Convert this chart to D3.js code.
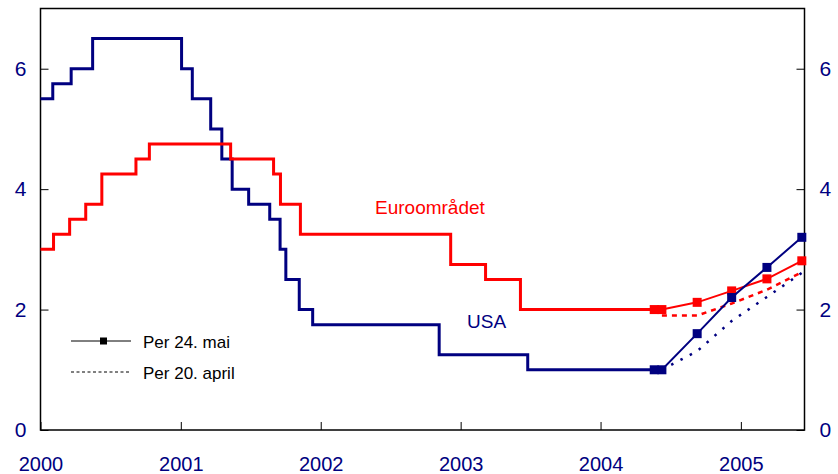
<!DOCTYPE html>
<html>
<head>
<meta charset="utf-8">
<script src="https://cdn.jsdelivr.net/npm/d3@7"></script>
<style>
  body { margin: 0; background: #fff; }
  svg { display: block; font-family: "Liberation Sans", Arial, sans-serif; }
</style>
</head>
<body>
<svg id="chart" width="838" height="474"></svg>
<script>
// ---------- data ----------
const usaDates = ["2000-01-01","2000-02-02","2000-03-21","2000-05-16","2001-01-03","2001-01-31","2001-03-20","2001-04-18","2001-05-15","2001-06-27","2001-08-21","2001-09-17","2001-10-02","2001-11-06","2001-12-11","2002-11-06","2003-06-25","2004-05-20"];
const usaRates = [5.5,5.75,6.0,6.5,6.0,5.5,5.0,4.5,4.0,3.75,3.5,3.0,2.5,2.0,1.75,1.25,1.0,1.0];

const euroDates = ["2000-01-01","2000-02-04","2000-03-17","2000-04-28","2000-06-09","2000-09-06","2000-10-11","2001-05-11","2001-08-31","2001-09-18","2001-11-09","2002-12-06","2003-03-07","2003-06-06","2004-05-20"];
const euroRates = [3.0,3.25,3.5,3.75,4.25,4.5,4.75,4.5,4.25,3.75,3.25,2.75,2.5,2.0,2.0];

const mayDates = ["2004-05-20","2004-06-09","2004-09-09","2004-12-08","2005-03-10","2005-06-09"];
const usaMay  = [1.0,1.0,1.6,2.2,2.7,3.2];
const euroMay = [2.0,2.0,2.12,2.31,2.51,2.81];

const aprilDates = ["2004-06-09","2004-09-09","2004-12-08","2005-03-10","2005-06-09"];
const usaApril  = [1.0,1.31,1.81,2.21,2.61];
const euroApril = [1.9,1.9,2.1,2.33,2.62];

const yearTicks = ["2000","2001","2002","2003","2004","2005"];
const yTicks = [0,2,4,6];

const seriesLabels = ["Euroområdet","USA"];
const legendLabels = ["Per 24. mai","Per 20. april"];

(function () {
// ---------- setup ----------
const parse = d3.timeParse("%Y-%m-%d");
const NAVY = "#000080", RED = "#ff0000";
const pLeft = 40.5, pRight = 804.5, pTop = 8.5, pBottom = 430;

const x = d3.scaleTime()
  .domain([parse("2000-01-01"), parse("2005-06-16")])
  .range([pLeft, pRight]);
const y = d3.scaleLinear().domain([0, 7]).range([pBottom, pTop]);

const svg = d3.select("#chart");

const zip = (ds, vs) => ds.map((d, i) => ({ date: parse(d), v: vs[i] }));

const stepLine = d3.line().x(d => x(d.date)).y(d => y(d.v)).curve(d3.curveStepAfter);
const line = d3.line().x(d => x(d.date)).y(d => y(d.v));

// ---------- frame ----------
svg.append("rect")
  .attr("x", pLeft).attr("y", pTop)
  .attr("width", pRight - pLeft).attr("height", pBottom - pTop)
  .attr("fill", "none").attr("stroke", "#000").attr("stroke-width", 1.5);

// ---------- axes ----------
const yearDates = yearTicks.map(t => parse(t + "-01-01"));
const xAxis = d3.axisBottom(x).tickValues(yearDates).tickSize(-8).tickFormat(d3.timeFormat("%Y")).tickPadding(27);
const gx = svg.append("g").attr("transform", `translate(0,${pBottom})`).call(xAxis);
gx.select(".domain").remove();
gx.selectAll(".tick line").attr("stroke", "#000").attr("stroke-width", 1);
gx.selectAll(".tick text").attr("fill", NAVY).attr("font-size", 20)
  .attr("font-family", "'Liberation Sans Narrow', 'Liberation Sans', Arial, sans-serif");

const yFmt = d3.format("d");
const yAxisL = d3.axisLeft(y).tickValues(yTicks).tickSize(-8).tickPadding(14).tickFormat(yFmt);
const gyl = svg.append("g").attr("transform", `translate(${pLeft},0)`).call(yAxisL);
gyl.select(".domain").remove();
gyl.selectAll(".tick line").attr("stroke", "#000");
gyl.selectAll(".tick text").attr("fill", NAVY).attr("font-size", 21);

const yAxisR = d3.axisRight(y).tickValues(yTicks).tickSize(-8).tickPadding(15).tickFormat(yFmt);
const gyr = svg.append("g").attr("transform", `translate(${pRight},0)`).call(yAxisR);
gyr.select(".domain").remove();
gyr.selectAll(".tick line").attr("stroke", "#000");
gyr.selectAll(".tick text").attr("fill", NAVY).attr("font-size", 21);

// ---------- history step lines ----------
svg.append("path").datum(zip(usaDates, usaRates))
  .attr("d", stepLine).attr("fill", "none").attr("stroke", NAVY).attr("stroke-width", 3);
svg.append("path").datum(zip(euroDates, euroRates))
  .attr("d", stepLine).attr("fill", "none").attr("stroke", RED).attr("stroke-width", 3);

// ---------- April forecasts (dashed) ----------
svg.append("path").datum(zip(aprilDates, euroApril))
  .attr("d", line).attr("fill", "none").attr("stroke", RED).attr("stroke-width", 2.5)
  .attr("stroke-dasharray", "5,5");
svg.append("path").datum(zip(aprilDates, usaApril))
  .attr("d", line).attr("fill", "none").attr("stroke", NAVY).attr("stroke-width", 2.5)
  .attr("stroke-dasharray", "2.5,8");

// ---------- May forecasts (solid with markers) ----------
[[euroMay, RED], [usaMay, NAVY]].forEach(([vals, col]) => {
  const data = zip(mayDates, vals);
  svg.append("path").datum(data)
    .attr("d", line).attr("fill", "none").attr("stroke", col).attr("stroke-width", 2);
  svg.selectAll(null).data(data).enter().append("rect")
    .attr("x", d => x(d.date) - 4.5).attr("y", d => y(d.v) - 4.5)
    .attr("width", 9).attr("height", 9).attr("fill", col);
});

// ---------- series labels ----------
svg.append("text").attr("x", 375).attr("y", 214).attr("fill", RED)
  .attr("font-size", 19).text(seriesLabels[0]);
svg.append("text").attr("x", 467).attr("y", 328).attr("fill", NAVY)
  .attr("font-size", 19).text(seriesLabels[1]);

// ---------- legend ----------
const lg = svg.append("g");
lg.append("line").attr("x1", 71).attr("x2", 131).attr("y1", 341).attr("y2", 341)
  .attr("stroke", "#000").attr("stroke-width", 1);
lg.append("rect").attr("x", 100).attr("y", 337.5).attr("width", 7).attr("height", 7).attr("fill", "#000");
lg.append("text").attr("x", 143).attr("y", 348).attr("font-size", 17).attr("fill", "#000").text(legendLabels[0]);
lg.append("line").attr("x1", 71).attr("x2", 131).attr("y1", 372).attr("y2", 372)
  .attr("stroke", "#000").attr("stroke-width", 1).attr("stroke-dasharray", "3,2.5");
lg.append("text").attr("x", 143).attr("y", 379).attr("font-size", 17).attr("fill", "#000").text(legendLabels[1]);
})();
</script>
</body>
</html>
